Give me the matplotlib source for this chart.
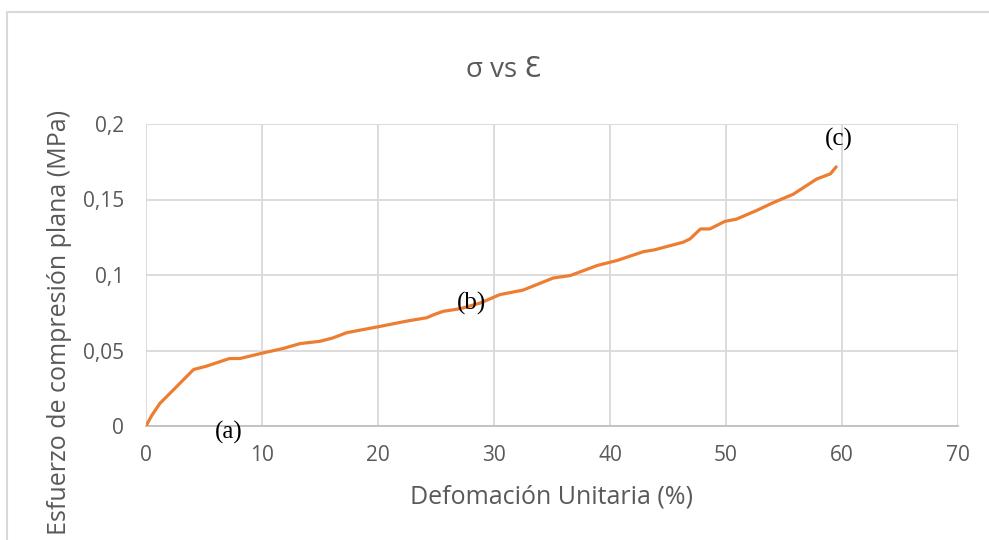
import numpy as np
import matplotlib.pyplot as plt
from matplotlib.patches import Rectangle
from matplotlib.ticker import FuncFormatter

# Curva esfuerzo-deformacion
deformacion = [0, 0.5, 1.2, 2.5, 4.1, 5.2, 7.2, 8.1, 10.1, 11.8, 13.3, 15.0,
               16.1, 17.3, 18.4, 20.2, 22.5, 24.2, 24.8, 25.6, 27.1, 28.8,
               30.5, 32.5, 35.1, 36.6, 38.9, 40.6, 42.9, 43.8, 46.3, 46.9,
               47.8, 48.6, 49.9, 50.9, 52.6, 54.1, 55.8, 56.9, 57.8, 59.0, 59.5]
esfuerzo = [0, 0.007, 0.015, 0.025, 0.0374, 0.0396, 0.0447, 0.0447, 0.0484,
            0.0513, 0.0546, 0.0561, 0.0583, 0.0618, 0.0634, 0.066, 0.0695,
            0.0717, 0.0737, 0.0759, 0.0777, 0.0814, 0.087, 0.090, 0.098,
            0.0997, 0.1063, 0.1096, 0.1155, 0.1166, 0.1217, 0.1239, 0.1305,
            0.1305, 0.1355, 0.137, 0.1426, 0.148, 0.1535, 0.159, 0.1635,
            0.167, 0.1716]

# etiquetas de los puntos
etiquetas = ['(a)', '(b)', '(c)']
etiq_x = [7.15, 28.1, 59.7]
etiq_y = [-0.004, 0.081, 0.190]

x_ticks = [0, 10, 20, 30, 40, 50, 60, 70]
y_ticks = [0, 0.05, 0.1, 0.15, 0.2]

plt.rcParams['font.family'] = ['Open Sans', 'DejaVu Sans']
gris = '#595959'
W, H = 989, 540

fig = plt.figure(figsize=(W / 100, H / 100), dpi=100)
# marco del area del grafico (cortado abajo y a la derecha)
fig.patches.append(Rectangle((7 / W, -0.1), 1.2, 1.1 - 12 / H,
                             transform=fig.transFigure, fill=False,
                             edgecolor='#d9d9d9', linewidth=1.5))

ax = fig.add_axes([146 / W, 1 - 426 / H, (958 - 146) / W, (426 - 124) / H])
ax.plot(deformacion, esfuerzo, color='#ED7D31', linewidth=2.3,
        solid_capstyle='round', solid_joinstyle='round', zorder=3)

for t, x, y in zip(etiquetas, etiq_x, etiq_y):
    ax.text(x, y, t, family='Liberation Serif', fontsize=18, color='black',
            ha='center', va='center', zorder=4, clip_on=False)

ax.set_xlim(0, 70)
ax.set_ylim(0, 0.2)
ax.set_xticks(x_ticks)
ax.set_yticks(y_ticks)
ax.xaxis.set_major_formatter(FuncFormatter(lambda v, p: f'{v:g}'))
ax.yaxis.set_major_formatter(FuncFormatter(lambda v, p: f'{v:g}'.replace('.', ',')))
ax.grid(True, color='#d9d9d9', linewidth=1.3)
ax.set_axisbelow(True)
for s in ['top', 'right', 'left']:
    ax.spines[s].set_visible(False)
ax.spines['bottom'].set_color('#bfbfbf')
ax.spines['bottom'].set_linewidth(1.3)
ax.tick_params(length=0, labelsize=15, labelcolor=gris)
ax.tick_params(axis='x', pad=14)
ax.tick_params(axis='y', pad=16)

# titulos de ejes centrados en el area del grafico
fig.text(551 / W, 1 - 497 / H, 'Defomación Unitaria (%)', fontsize=18,
         color=gris, ha='center', va='center')
fig.text(60 / W, 1 - 322 / H, 'Esfuerzo de compresión plana (MPa)',
         fontsize=18, color=gris, ha='center', va='center', rotation=90)
fig.text(504 / W, 1 - 77 / H, 'σ vs Ɛ', fontsize=20, color=gris,
         ha='center', va='baseline')

fig.savefig('out.png', dpi=100, facecolor='white')
